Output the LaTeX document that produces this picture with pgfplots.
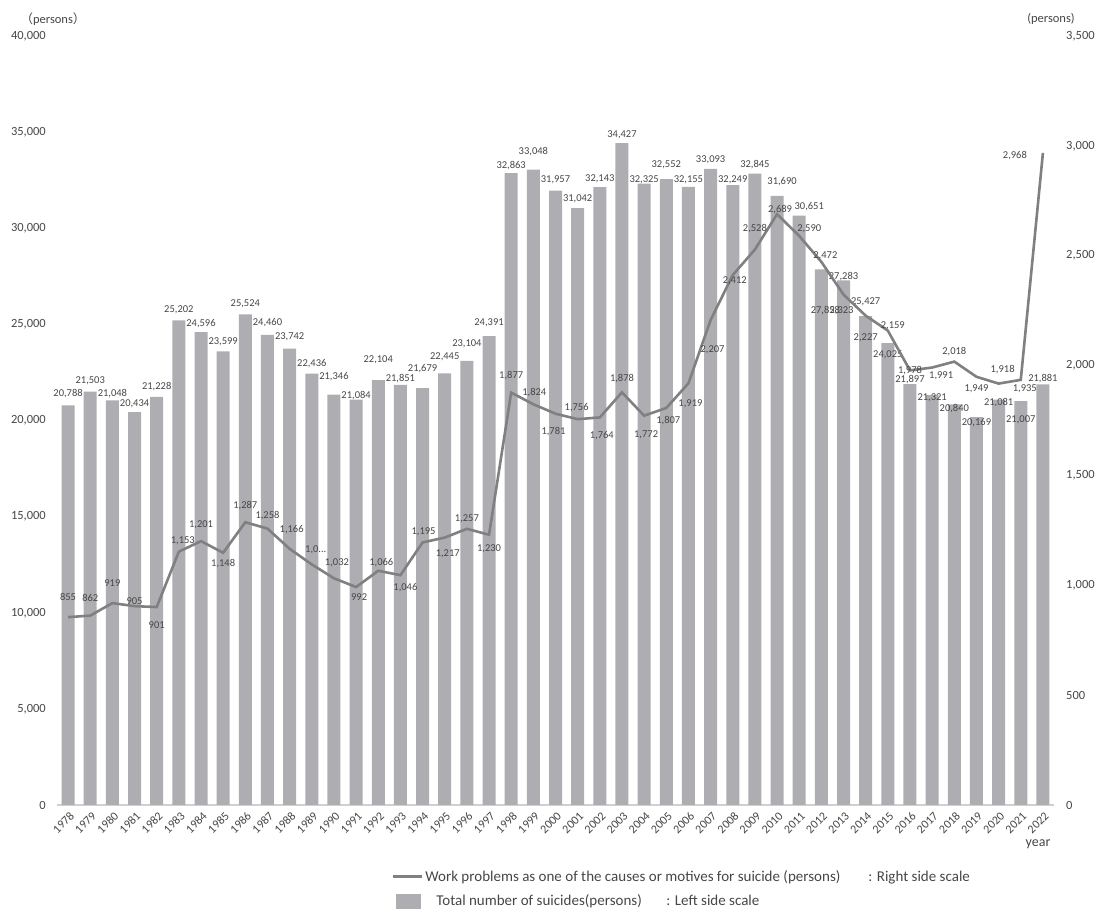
\documentclass[border=0pt]{standalone}
\usepackage{fontspec}
\setmainfont{Carlito}
\newfontfamily\cjk{Noto Sans CJK JP}
\usepackage{pgfplots}
\pgfplotsset{compat=1.18}
\definecolor{barc}{RGB}{174,174,178}
\definecolor{linec}{RGB}{128,128,128}
\definecolor{txt}{RGB}{70,70,70}
\definecolor{axc}{RGB}{208,208,208}

\pgfplotstableread{
year v lab up dx
1978 20788 20,788 12 0
1979 21503 21,503 11 0
1980 21048 21,048 7 0
1981 20434 20,434 8 0
1982 21228 21,228 10 0
1983 25202 25,202 11 0
1984 24596 24,596 9 0
1985 23599 23,599 10 0
1986 25524 25,524 11 0
1987 24460 24,460 12 0
1988 23742 23,742 12 0
1989 22436 22,436 10 0
1990 21346 21,346 18 0
1991 21084 21,084 4 0
1992 22104 22,104 20 0
1993 21851 21,851 6 0
1994 21679 21,679 20 0
1995 22445 22,445 17 0
1996 23104 23,104 17 0
1997 24391 24,391 13 0
1998 32863 32,863 8 0
1999 33048 33,048 18 0
2000 31957 31,957 11 0
2001 31042 31,042 9 0
2002 32143 32,143 8 0
2003 34427 34,427 8 0
2004 32325 32,325 4 0
2005 32552 32,552 14 0
2006 32155 32,155 7 0
2007 33093 33,093 9 0
2008 32249 32,249 5 0
2009 32845 32,845 9 0
2010 31690 31,690 14 5
2011 30651 30,651 9 10
2012 27858 27,858 -41 4
2013 27283 27,283 4 0
2014 25427 25,427 14 0
2015 24025 24,025 -12 0
2016 21897 21,897 4 0
2017 21321 21,321 -3 0
2018 20840 20,840 -4 0
2019 20169 20,169 -5 0
2020 21081 21,081 -3 0
2021 21007 21,007 -19 0
2022 21881 21,881 6 0
}\bars

\pgfplotstableread{
year v lab up dx
1978 855 855 20 0
1979 862 862 18 0
1980 919 919 20 0
1981 905 905 5 0
1982 901 901 -18 0
1983 1153 1,153 11 4
1984 1201 1,201 16 0
1985 1148 1,148 -11 0
1986 1287 1,287 17 0
1987 1258 1,258 13 0
1988 1166 1,166 19 2
1989 1095 1,0... 15 4
1990 1032 1,032 15 3
1991 992 992 -10 3
1992 1066 1,066 8 3
1993 1046 1,046 -12 5
1994 1195 1,195 11 1
1995 1217 1,217 -16 3
1996 1257 1,257 10 0
1997 1230 1,230 -14 0
1998 1877 1,877 17 0
1999 1824 1,824 12 1
2000 1781 1,781 -18 -2
2001 1756 1,756 12 -1
2002 1764 1,764 -18 2
2003 1878 1,878 14 0
2004 1772 1,772 -19 2
2005 1807 1,807 -13 2
2006 1919 1,919 -20 2
2007 2207 2,207 -30 2
2008 2412 2,412 -6 2
2009 2528 2,528 21 0
2010 2689 2,689 5 3
2011 2590 2,590 7 10
2012 2472 2,472 6 4
2013 2323 2,323 -16 -2
2014 2227 2,227 -22 0
2015 2159 2,159 5 5
2016 1978 1,978 0 0
2017 1991 1,991 -8 9
2018 2018 2,018 10 0
2019 1949 1,949 -12 0
2020 1918 1,918 14 4
2021 1935 1,935 -9 4
2022 2968 2,968 -3 -28
}\work

\begin{document}
\begin{tikzpicture}[x=1pt,y=1pt]
\useasboundingbox (0,0) rectangle (1095,910);
\begin{axis}[
  at={(57pt,105pt)}, anchor=south west, scale only axis,
  width=997pt, height=769pt,
  xmin=1977.5, xmax=2022.5, ymin=0, ymax=40000,
  xtick={1978,...,2022}, ytick={0,5000,...,40000},
  axis x line*=bottom, axis y line*=left,
  y axis line style={draw=none},
  x axis line style={draw=axc, line width=1.2pt},
  major tick length=0pt,
  scaled y ticks=false,
  /pgf/number format/.cd, 1000 sep={,}, assume math mode=true,
  /pgfplots/.cd,
  xticklabel={\pgfmathprintnumber[1000 sep=]{\tick}},
  xticklabel style={font=\fontsize{12}{12}\selectfont, text=txt, inner sep=0pt, xshift=4pt, yshift=-9pt, rotate=45, anchor=east},
  yticklabel style={font=\fontsize{12.5}{12.5}\selectfont, text=txt, inner sep=0pt, anchor=east, xshift=-11pt},
  clip=false,
]
\addplot[ybar, bar width=13pt, fill=barc, draw=none,
  nodes near coords, point meta=explicit symbolic,
  visualization depends on={\thisrow{up} \as \up},
  visualization depends on={\thisrow{dx} \as \dx},
  every node near coord/.append style={anchor=center, inner sep=0pt, xshift=\dx pt, yshift=\up pt, font=\fontsize{10.5}{10.5}\selectfont, text=txt}]
  table[x=year, y=v, meta=lab] {\bars};
\end{axis}
\begin{axis}[
  at={(57pt,105pt)}, anchor=south west, scale only axis,
  width=997pt, height=769pt,
  xmin=1977.5, xmax=2022.5, ymin=0, ymax=3500,
  ytick={0,500,...,3500},
  axis x line=none, axis y line*=right,
  y axis line style={draw=none},
  major tick length=0pt,
  scaled y ticks=false,
  /pgf/number format/.cd, 1000 sep={,}, assume math mode=true,
  /pgfplots/.cd,
  yticklabel style={font=\fontsize{12.5}{12.5}\selectfont, text=txt, inner sep=0pt, anchor=west, xshift=12pt},
  clip=false,
  legend style={at={(335pt,-63pt)}, anchor=north west, draw=none, fill=none, inner sep=0pt,
    font=\fontsize{15}{15}\selectfont, text=txt, row sep=8pt, cells={anchor=west},
    /tikz/every even column/.append style={column sep=2pt}},
  legend cell align=left,
]
\addplot[linec, line width=2.6pt, no markers,
  legend image code/.code={\draw[linec, line width=2.2pt] (0pt,0pt) -- (29pt,0pt);},
  nodes near coords, point meta=explicit symbolic,
  visualization depends on={\thisrow{up} \as \up},
  visualization depends on={\thisrow{dx} \as \dx},
  every node near coord/.append style={anchor=center, inner sep=0pt, xshift=\dx pt, yshift=\up pt, font=\fontsize{10.5}{10.5}\selectfont, text=txt}]
  table[x=year, y=v, meta=lab] {\work};
\addlegendentry{\makebox[443pt][l]{Work problems as one of the causes or motives for suicide (persons)}: Right side scale}
\addlegendimage{legend image code/.code={\fill[barc] (3pt,-7pt) rectangle (27pt,7pt);}}
\addlegendentry{\hspace{11pt}\makebox[230pt][l]{Total number of suicides(persons)}: Left side scale}
\end{axis}
\node[font=\fontsize{12.5}{12.5}\selectfont, text=txt] at (53,891) {{\cjk （}persons{\cjk ）}};
\node[font=\fontsize{12.5}{12.5}\selectfont, text=txt] at (1051,891) {(persons)};
\node[font=\fontsize{14}{14}\selectfont, text=txt] at (1038,66) {year};
\end{tikzpicture}
\end{document}
